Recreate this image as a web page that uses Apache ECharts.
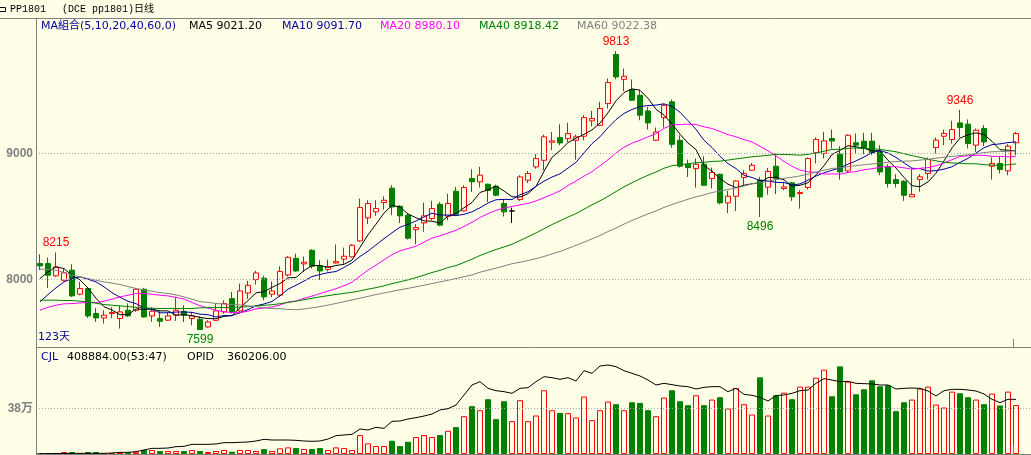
<!DOCTYPE html>
<html><head><meta charset="utf-8">
<script src="https://cdn.jsdelivr.net/npm/echarts@6/dist/echarts.min.js"></script>
<style>html,body{margin:0;padding:0;background:#FFFFE8;}#c{width:1031px;height:455px;}</style>
</head><body><div id="c"></div>
<script>
// ---------- data ----------
const opens = [
8127,8127,8029,7994,8074,7883,7928,7730,7695,7730,
7690,7756,7756,7923,7711,7690,7677,7717,7748,7690,
7685,7624,7676,7743,7848,7751,7893,7999,8010,7883,
7876,8036,8168,8124,8232,8109,8080,8131,8162,8180,
8306,8489,8537,8611,8725,8581,8510,8396,8449,8484,
8597,8502,8701,8545,8801,8775,8756,8740,8603,8544,
8634,8788,8894,8946,9089,9126,9118,9105,9137,9259,
9224,9396,9785,9589,9507,9462,9338,9105,9285,9410,
9105,8915,8880,8915,8801,8835,8608,8661,8809,8867,
8790,8733,8899,8722,8767,8682,8730,9005,9000,9119,
8995,8862,9085,9098,9098,9013,8894,8793,8780,8656,
8793,8841,9047,9137,9111,9243,9233,9066,9198,8899,
8921,8862,9085];
const closes = [
8108,8034,8100,8053,7870,7928,7711,7695,7717,7738,
7743,7711,7923,7703,7748,7669,7711,7756,7717,7711,
7602,7663,7751,7809,7743,7909,7954,8052,7862,7909,
8064,8176,8068,8137,8105,8068,8103,8142,8185,8272,
8571,8603,8563,8629,8576,8505,8328,8412,8505,8563,
8431,8603,8518,8730,8775,8828,8706,8669,8537,8544,
8814,8841,8960,9132,9100,9084,9158,9132,9285,9277,
9357,9563,9608,9613,9423,9304,9243,9171,9383,9073,
8899,8888,8915,8748,8849,8608,8661,8782,8841,8907,
8655,8858,8800,8735,8656,8690,8960,9111,9100,9100,
8854,9145,9066,9040,9005,8854,8762,8762,8669,8675,
8815,8952,9106,9159,9190,9206,9079,9185,9092,8921,
8873,9058,9159];
const lows = [
8075,7934,8021,7985,7860,7875,7695,7664,7650,7695,
7611,7703,7743,7698,7664,7624,7671,7671,7663,7637,
7599,7618,7671,7729,7729,7729,7845,7960,7835,7860,
7860,8023,8060,8060,8087,7997,8064,8126,8125,8174,
8298,8439,8505,8555,8510,8449,8317,8280,8378,8470,
8423,8470,8510,8540,8695,8730,8616,8661,8500,8449,
8624,8766,8880,8867,9026,9066,9092,8952,9105,9216,
9216,9357,9589,9494,9417,9264,9190,9100,9206,9047,
8888,8814,8729,8743,8722,8597,8528,8544,8748,8862,
8496,8673,8678,8709,8624,8563,8714,8921,8960,9040,
8793,8846,8995,8995,8987,8828,8730,8730,8624,8656,
8696,8793,9000,9066,9079,9127,9040,9013,9058,8793,
8841,8828,8987];
const highs = [
8200,8174,8215,8084,8120,7981,7935,7775,7756,7780,
7790,7810,7934,7934,7780,7750,7740,7862,7796,7743,
7708,7677,7809,7835,7901,7967,7990,8068,8030,7984,
8105,8185,8206,8182,8241,8153,8158,8278,8253,8281,
8642,8629,8629,8660,8748,8589,8523,8440,8611,8624,
8616,8682,8735,8748,8875,8894,8761,8753,8638,8570,
8827,8862,8994,9150,9171,9232,9243,9150,9304,9338,
9410,9595,9813,9674,9587,9507,9370,9206,9396,9428,
9145,8952,8960,8978,8888,8841,8703,8788,8867,8925,
8814,8885,9000,8775,8775,8709,8968,9127,9172,9190,
9058,9153,9159,9164,9164,9066,8915,8836,8788,8881,
8836,8968,9127,9190,9259,9346,9270,9198,9225,8968,
8979,9074,9172];
const volumes = [
8300,8300,8300,16600,16600,8300,16600,16600,3000,3000,
13900,13900,19400,33300,33300,24900,24900,24900,24900,33300,
24900,16600,24900,33300,19400,33300,33300,24900,41600,24900,
47100,55400,49900,41600,41600,49900,33300,55400,49900,33300,
158000,88700,66500,66500,110900,66500,102600,141400,158000,141400,
158000,194000,224500,316000,399200,365900,457400,291100,440700,274400,
449100,274400,321600,532200,365900,343700,341000,304900,479600,282700,
365900,438000,415800,365900,432400,426900,365900,316000,471200,532200,
440700,407500,490600,407500,454600,474000,379800,551600,415800,329900,
640300,321600,490600,512800,457400,562700,562700,637600,704100,482300,
731800,604300,499000,540500,615400,565500,573800,357600,432400,454600,
546100,562700,413000,388100,521100,507300,474000,454600,415800,504500,
404700,521100,408884];
const openInterest = [
2200,2200,3300,3300,4400,4400,4400,4400,4400,6600,
11000,11000,15400,26400,37300,37300,39500,48300,50500,63700,
63700,63700,65900,74700,74700,76900,79100,85700,96600,92200,
92200,92200,90000,85600,83400,85600,98800,120800,125200,129600,
164700,158100,175700,169100,215200,217400,230600,239400,250300,263500,
289900,298700,322800,388700,454600,476500,432600,417300,410700,399700,
432700,437000,476500,509500,502900,491900,502900,480900,549000,531400,
579700,586300,575400,549000,531400,513900,487500,454600,465600,456800,
448000,443600,428200,439200,443600,443600,410700,432600,393100,386500,
373300,349200,384300,388700,399700,417200,421600,465600,496300,487500,
476500,478700,465600,463400,461200,454600,454600,428200,432600,434800,
432600,415000,382100,417200,426000,426000,421600,415000,395300,360100,
338200,360100,360206];
// moving-average values before a full window exists
const ma5Head = [8008,8061,8100,8087];
const ma10Head = [7822,7881,7934,7981,8008,8021,8002,7981,7942];
const ma20Head = [7756,7780,7796,7807,7809,7814,7817,7817,7828,7844,7862,7875,7889,7889,7883,7875,7870,7858,7845];
const ma40Head = [7836,7836,7836,7833,7833,7828,7822,7812,7801,7796,7791,7785,7780,7775,7772,7770,7770,7770,7770,7770,
7775,7776,7777,7778,7779,7781,7785,7790,7795,7800,7808,7818,7828,7840,7851,7862,7872,7881,7890];
const ma60Head = [8082,8079,8074,8055,8034,8021,8008,7994,7981,7971,7960,7944,7928,7918,7907,7896,7889,7878,7862,7844,
7825,7818,7810,7805,7801,7798,7790,7785,7775,7770,7768,7763,7760,7766,7775,7785,7797,7810,7824,7838,
7852,7866,7880,7893,7906,7918,7930,7942,7955,7968,7981,7994,8008,8022,8036,8058,8074,8090,8107];
const priceTicks = [8000, 9000];
const priceTickLabels = ['8000', '9000'];
const volTicks = [380000];
const volTickLabels = ['38万'];
const extremes = [[2,'high'],[20,'low'],[72,'high'],[90,'low'],[115,'high']];
const maTexts = ['MA組合(5,10,20,40,60,0)','MA5 9021.20','MA10 9091.70','MA20 8980.10','MA40 8918.42','MA60 9022.38'];
const volTexts = ['CJL','408884.00(53:47)','OPID','360206.00'];
const headerTexts = ['PP1801','(DCE pp1801)日线'];
const dayLabel = '123天';

// ---------- layout / style ----------
const BG = '#FFFFE8', RED = '#FF0000', GREEN = '#008000', NAVY = '#00009C', GRAY = '#808080';
const FONT = '11px "DejaVu Sans","Noto Sans CJK SC",sans-serif';
const days = opens.map((_, i) => String(i + 1));
// main pane: 9000 at y=153.5, 8000 at y=279.5 (126 px per 1000); grid 19..347
const PMAX = 9000 + (153.5 - 19) * 1000 / 126;
const PMIN = 8000 - (347 - 279.5) * 1000 / 126;
// volume pane: 0 at y=454, 380000 at y=408.5; grid 348..454
const VMAX = 106 * 380000 / 45.5;
const OMAX = 106 * 6588;

const candleData = opens.map((o, i) => [o, closes[i], lows[i], highs[i]]);
function movingAverage(n, head) {
  return closes.map((c, i) => {
    if (i < n - 1) return head[i];
    let s = 0; for (let k = i - n + 1; k <= i; k++) s += closes[k];
    return +(s / n).toFixed(2);
  });
}
const maDefs = [
  {n:5, head:ma5Head, color:'#000000'},
  {n:10, head:ma10Head, color:NAVY},
  {n:20, head:ma20Head, color:'#FF00FF'},
  {n:40, head:ma40Head, color:GREEN},
  {n:60, head:ma60Head, color:GRAY}
];

const chart = echarts.init(document.getElementById('c'), null, {renderer:'canvas'});
const series = [];
series.push({
  type:'candlestick', name:'K', xAxisIndex:0, yAxisIndex:0, data:candleData, barWidth:6, z:2, silent:true,
  itemStyle:{color:BG, color0:GREEN, borderColor:RED, borderColor0:GREEN, borderColorDoji:'#000000', borderWidth:1},
  markPoint:{
    silent:true, symbol:'rect', symbolSize:1, itemStyle:{color:'rgba(0,0,0,0)'},
    data: extremes.map(([i, k]) => {
      const v = k === 'high' ? highs[i] : lows[i];
      return {coord:[i, v], value:v,
        label:{show:true, position:k === 'high' ? 'top' : 'bottom', distance:3,
          color:k === 'high' ? RED : GREEN, font:FONT, formatter:String(v)}};
    })
  }
});
maDefs.forEach(d => series.push({
  type:'line', xAxisIndex:0, yAxisIndex:0, data:movingAverage(d.n, d.head), symbol:'none', showSymbol:false,
  silent:true, z:4, lineStyle:{color:d.color, width:1}
}));
series.push({
  type:'bar', xAxisIndex:1, yAxisIndex:1, barWidth:6, silent:true, z:2,
  data: volumes.map((v, i) => ({value:v, itemStyle: closes[i] >= opens[i]
    ? {color:BG, borderColor:RED, borderWidth:1}
    : {color:GREEN, borderColor:GREEN, borderWidth:1}}))
});
series.push({
  type:'line', xAxisIndex:1, yAxisIndex:2, data:openInterest, symbol:'none', showSymbol:false, silent:true, z:5,
  lineStyle:{color:'#000000', width:1}
});
const dotted = {color:'#A8A8A8', width:1, type:[1,2]};
series.push({
  type:'line', xAxisIndex:2, yAxisIndex:3, data:[], silent:true,
  markLine:{silent:true, symbol:'none', label:{show:false}, lineStyle:dotted, animation:false,
    data: priceTicks.map(v => ({yAxis:v}))}
});
series.push({
  type:'line', xAxisIndex:3, yAxisIndex:4, data:[], silent:true,
  markLine:{silent:true, symbol:'none', label:{show:false}, lineStyle:dotted, animation:false,
    data: volTicks.map(v => ({yAxis:v}))}
});

const hiddenAxisParts = {axisLine:{show:false}, axisTick:{show:false}, splitLine:{show:false}};
const g = [];
const line = (x1, y1, x2, y2, c) => g.push({type:'line', silent:true, z:100,
  shape:{x1, y1, x2, y2}, style:{stroke:c || GRAY, lineWidth:1}});
line(0, 18.5, 1031, 18.5);
line(36.5, 18, 36.5, 455);
line(36, 347.5, 1031, 347.5);
line(36, 454.5, 1031, 454.5);
line(1013.5, 339, 1013.5, 347);
line(1013.5, 445, 1013.5, 454);
g.push({type:'polyline', silent:true, shape:{points:[[0,7.5],[5.5,7.5],[5.5,11.5],[0,11.5]]}, style:{stroke:'#000', fill:null, lineWidth:1}});
const txt = (text, x, y, color, font) => g.push({type:'text', silent:true, z:100, x, y,
  style:{text, fill:color, font:font || FONT, textVerticalAlign:'middle', verticalAlign:'middle', textAlign:'left', align:'left'}});
const MONO = '10px "Liberation Mono","DejaVu Sans Mono","Noto Sans CJK SC",monospace';
txt(headerTexts[0], 10, 9.5, '#000', MONO);
txt(headerTexts[1], 62, 9.5, '#000', MONO);
const maX = [41, 189, 282, 380, 479, 577];
const maC = [NAVY, '#000000', NAVY, '#FF00FF', GREEN, GRAY];
maTexts.forEach((t, i) => txt(t, maX[i], 26.5, maC[i]));
const volX = [41, 67, 187, 227];
const volC = [NAVY, '#000', '#000', '#000'];
volTexts.forEach((t, i) => txt(t, volX[i], 357, volC[i]));
txt(dayLabel, 38, 337, NAVY);

chart.setOption({
  backgroundColor:BG,
  animation:false,
  grid:[
    {left:36, top:19, width:984, height:328},
    {left:36, top:348, width:984, height:106},
    {left:36, top:19, right:0, height:328},
    {left:36, top:348, right:0, height:106}
  ],
  xAxis:[
    {type:'category', gridIndex:0, data:days, show:false},
    {type:'category', gridIndex:1, data:days, show:false},
    {type:'value', gridIndex:2, min:0, max:1, show:false},
    {type:'value', gridIndex:3, min:0, max:1, show:false}
  ],
  yAxis:[
    Object.assign({type:'value', gridIndex:0, min:PMIN, max:PMAX,
      axisLabel:{customValues:priceTicks, color:GRAY, fontSize:12, fontWeight:'bold',
        fontFamily:'"Liberation Sans",Arial,sans-serif', margin:3,
        formatter:v => priceTickLabels[priceTicks.indexOf(v)] || ''}}, hiddenAxisParts),
    Object.assign({type:'value', gridIndex:1, min:0, max:VMAX,
      axisLabel:{customValues:volTicks, color:GRAY, fontSize:12, fontWeight:'bold',
        fontFamily:'"Liberation Sans","Noto Sans CJK SC",sans-serif', margin:3,
        formatter:v => volTickLabels[volTicks.indexOf(v)] || ''}}, hiddenAxisParts),
    {type:'value', gridIndex:1, min:0, max:OMAX, show:false},
    {type:'value', gridIndex:2, min:PMIN, max:PMAX, show:false},
    {type:'value', gridIndex:3, min:0, max:VMAX, show:false}
  ],
  series,
  graphic:g
});
</script></body></html>
